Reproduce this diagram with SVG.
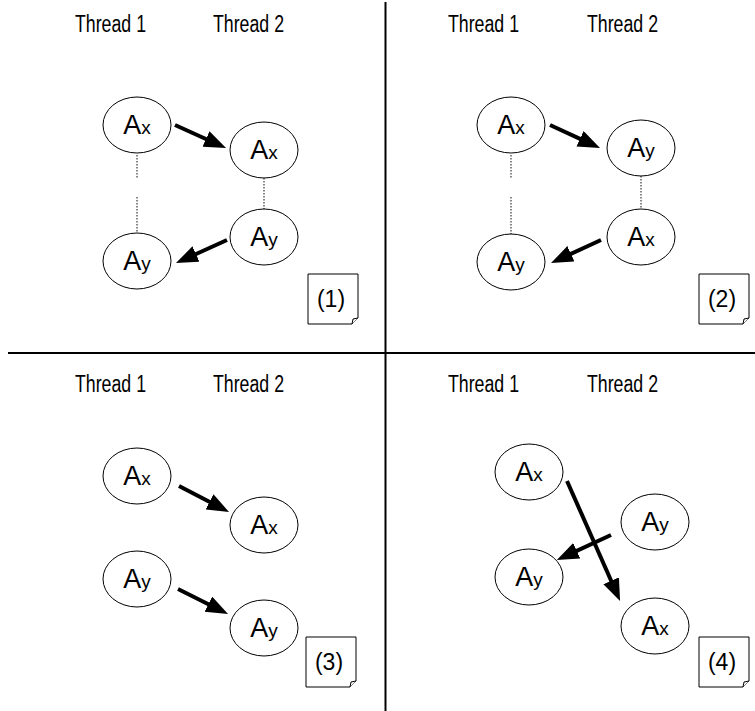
<svg xmlns="http://www.w3.org/2000/svg" width="755" height="711" viewBox="0 0 755 711">
<defs>
<marker id="ah" markerUnits="userSpaceOnUse" markerWidth="24" markerHeight="18" refX="9" refY="8.5" orient="auto">
<path d="M0,0 L22,8.5 L0,17 Z" fill="#000"/>
</marker>
<style>
.hd{font-family:"Liberation Sans",Arial,sans-serif;font-size:23px;fill:#000}
.nd ellipse{fill:#fff;stroke:#000;stroke-width:1}
.lb{font-family:"Liberation Sans",Arial,sans-serif;font-size:27px;fill:#000;text-anchor:middle}
.sb{font-size:19px}
.arr{stroke:#000;stroke-width:4;fill:none;marker-end:url(#ah)}
.dot{stroke:#444;stroke-width:1.3;stroke-dasharray:1.5 1.5;fill:none}
.bx{fill:#fff;stroke:#000;stroke-width:1}
.bt{font-family:"Liberation Sans",Arial,sans-serif;font-size:23px;fill:#000;text-anchor:middle}
.dv{stroke:#000;stroke-width:2}
</style>
</defs>
<rect width="755" height="711" fill="#fff"/>
<g id="dividers">
<line class="dv" x1="385.5" y1="2" x2="385.5" y2="711"/>
<line class="dv" x1="8" y1="353" x2="755" y2="353"/>
</g>
<g id="headers">
<text class="hd" x="75" y="32" textLength="71" lengthAdjust="spacingAndGlyphs">Thread 1</text>
<text class="hd" x="213" y="32" textLength="71" lengthAdjust="spacingAndGlyphs">Thread 2</text>
<text class="hd" x="448" y="32" textLength="71" lengthAdjust="spacingAndGlyphs">Thread 1</text>
<text class="hd" x="587" y="32" textLength="71" lengthAdjust="spacingAndGlyphs">Thread 2</text>
<text class="hd" x="75" y="392" textLength="71" lengthAdjust="spacingAndGlyphs">Thread 1</text>
<text class="hd" x="213" y="392" textLength="71" lengthAdjust="spacingAndGlyphs">Thread 2</text>
<text class="hd" x="448" y="392" textLength="71" lengthAdjust="spacingAndGlyphs">Thread 1</text>
<text class="hd" x="587" y="392" textLength="71" lengthAdjust="spacingAndGlyphs">Thread 2</text>
</g>
<g id="connectors">
<line class="dot" x1="137" y1="155" x2="137" y2="178"/>
<line class="dot" x1="137" y1="197" x2="137" y2="233"/>
<line class="dot" x1="264" y1="178" x2="264" y2="209"/>
<line class="dot" x1="511" y1="155" x2="511" y2="178"/>
<line class="dot" x1="511" y1="197" x2="511" y2="235"/>
<line class="dot" x1="641" y1="176" x2="641" y2="209"/>
<line class="arr" x1="175" y1="125" x2="214.2" y2="142.7"/>
<line class="arr" x1="227" y1="240" x2="187.8" y2="257.7"/>
<line class="arr" x1="550" y1="125" x2="588.2" y2="142.6"/>
<line class="arr" x1="601" y1="240" x2="562.8" y2="257.6"/>
<line class="arr" x1="179" y1="486" x2="217.5" y2="506"/>
<line class="arr" x1="178" y1="589" x2="216.4" y2="608.2"/>
<line class="arr" x1="567" y1="481" x2="614.8" y2="589"/>
<line class="arr" x1="611" y1="535" x2="568.6" y2="554.6"/>
</g>
<g id="q1-t1-ax" class="nd"><ellipse cx="137" cy="125" rx="34" ry="28"/><text class="lb" x="137" y="134">A<tspan class="sb">x</tspan></text></g>
<g id="q1-t2-ax" class="nd"><ellipse cx="264" cy="150" rx="34" ry="28"/><text class="lb" x="264" y="159">A<tspan class="sb">x</tspan></text></g>
<g id="q1-t2-ay" class="nd"><ellipse cx="264" cy="237" rx="34" ry="28"/><text class="lb" x="264" y="246">A<tspan class="sb">y</tspan></text></g>
<g id="q1-t1-ay" class="nd"><ellipse cx="137" cy="261" rx="34" ry="28"/><text class="lb" x="137" y="270">A<tspan class="sb">y</tspan></text></g>
<g id="q2-t1-ax" class="nd"><ellipse cx="511" cy="125" rx="34" ry="28"/><text class="lb" x="511" y="134">A<tspan class="sb">x</tspan></text></g>
<g id="q2-t2-ay" class="nd"><ellipse cx="641" cy="148" rx="34" ry="28"/><text class="lb" x="641" y="157">A<tspan class="sb">y</tspan></text></g>
<g id="q2-t2-ax" class="nd"><ellipse cx="641" cy="237" rx="34" ry="28"/><text class="lb" x="641" y="246">A<tspan class="sb">x</tspan></text></g>
<g id="q2-t1-ay" class="nd"><ellipse cx="511" cy="262" rx="34" ry="28"/><text class="lb" x="511" y="271">A<tspan class="sb">y</tspan></text></g>
<g id="q3-t1-ax" class="nd"><ellipse cx="137" cy="476" rx="34" ry="28"/><text class="lb" x="137" y="485">A<tspan class="sb">x</tspan></text></g>
<g id="q3-t2-ax" class="nd"><ellipse cx="264" cy="525" rx="34" ry="28"/><text class="lb" x="264" y="534">A<tspan class="sb">x</tspan></text></g>
<g id="q3-t1-ay" class="nd"><ellipse cx="137" cy="579" rx="34" ry="28"/><text class="lb" x="137" y="588">A<tspan class="sb">y</tspan></text></g>
<g id="q3-t2-ay" class="nd"><ellipse cx="264" cy="628" rx="34" ry="28"/><text class="lb" x="264" y="637">A<tspan class="sb">y</tspan></text></g>
<g id="q4-t1-ax" class="nd"><ellipse cx="529" cy="472" rx="34" ry="28"/><text class="lb" x="529" y="481">A<tspan class="sb">x</tspan></text></g>
<g id="q4-t2-ay" class="nd"><ellipse cx="655" cy="522" rx="34" ry="28"/><text class="lb" x="655" y="531">A<tspan class="sb">y</tspan></text></g>
<g id="q4-t1-ay" class="nd"><ellipse cx="529" cy="577" rx="34" ry="28"/><text class="lb" x="529" y="586">A<tspan class="sb">y</tspan></text></g>
<g id="q4-t2-ax" class="nd"><ellipse cx="655" cy="626" rx="34" ry="28"/><text class="lb" x="655" y="635">A<tspan class="sb">x</tspan></text></g>
<g id="label-1"><path class="bx" d="M308,274 H358 V318 L352,324 H308 Z"/><path class="bx" d="M352,324 L353,319 L358,318"/><text class="bt" x="331" y="307">(1)</text></g>
<g id="label-2"><path class="bx" d="M699,274 H749 V318 L743,324 H699 Z"/><path class="bx" d="M743,324 L744,319 L749,318"/><text class="bt" x="722" y="307">(2)</text></g>
<g id="label-3"><path class="bx" d="M306,637 H356 V681 L350,687 H306 Z"/><path class="bx" d="M350,687 L351,682 L356,681"/><text class="bt" x="329" y="670">(3)</text></g>
<g id="label-4"><path class="bx" d="M699,637 H749 V681 L743,687 H699 Z"/><path class="bx" d="M743,687 L744,682 L749,681"/><text class="bt" x="722" y="670">(4)</text></g>
</svg>
